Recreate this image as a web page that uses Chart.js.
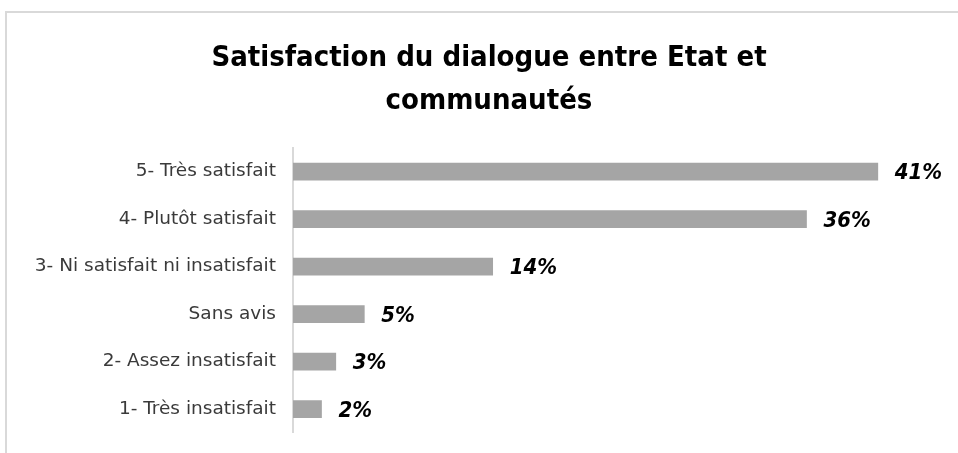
<!DOCTYPE html>
<html>
<head>
<meta charset="utf-8">
<script src="https://cdn.jsdelivr.net/npm/chart.js@4.4.1/dist/chart.umd.min.js"></script>
<style>
  html, body { margin: 0; padding: 0; background: #fff; }
  #frame {
    position: absolute; left: 5px; top: 11px; width: 1000px; height: 460px;
    border-top: 2px solid #d9d9d9; border-left: 2px solid #d9d9d9;
  }
  #wrap { position: absolute; left: 0; top: 0; width: 958px; height: 453px; }
</style>
</head>
<body>
<div id="frame"></div>
<div id="wrap"><canvas id="satisfactionChart" width="958" height="453"></canvas></div>
<script>
const categories = [
    '5- Très satisfait',
    '4- Plutôt satisfait',
    '3- Ni satisfait ni insatisfait',
    'Sans avis',
    '2- Assez insatisfait',
    '1- Très insatisfait'
];
const shares = [41, 36, 14, 5, 3, 2];
const shareLabels = ['41%', '36%', '14%', '5%', '3%', '2%'];

// étiquettes de valeur à droite des barres
const valueLabels = {
    id: 'valueLabels',
    afterDatasetsDraw(chart) {
        const ctx = chart.ctx;
        const meta = chart.getDatasetMeta(0);
        ctx.save();
        ctx.font = 'italic bold 22px "DejaVu Sans Condensed", "DejaVu Sans", sans-serif';
        ctx.fillStyle = '#000';
        ctx.textAlign = 'left';
        ctx.textBaseline = 'middle';
        meta.data.forEach((bar, i) => {
            ctx.fillText(shareLabels[i], bar.x + 17, bar.y + 2);
        });
        ctx.restore();
    }
};

const ctx = document.getElementById('satisfactionChart').getContext('2d');
new Chart(ctx, {
    type: 'bar',
    data: {
        labels: categories,
        datasets: [{
            data: shares,
            backgroundColor: '#a5a5a5',
            barThickness: 17
        }]
    },
    options: {
        indexAxis: 'y',
        responsive: false,
        animation: false,
        layout: { padding: { top: 37, right: 6, bottom: 11, left: 26 } },
        scales: {
            x: { display: false, min: 0, max: 46.2 },
            y: {
                grid: { display: false },
                border: { display: true, color: '#d9d9d9', width: 2 },
                ticks: {
                    padding: 9,
                    color: '#3a3a3a',
                    font: { family: '"DejaVu Sans"', size: 18.5 }
                },
                afterFit(scale) { scale.width = 267; }
            }
        },
        plugins: {
            legend: { display: false },
            tooltip: { enabled: false },
            title: {
                display: true,
                text: ['Satisfaction du dialogue entre Etat et', 'communautés'],
                color: '#000',
                font: { family: '"DejaVu Sans Condensed", "DejaVu Sans"', size: 29, weight: 'bold', lineHeight: 1.48 },
                padding: { top: 0, bottom: 25 }
            }
        }
    },
    plugins: [valueLabels]
});
</script>
</body>
</html>
